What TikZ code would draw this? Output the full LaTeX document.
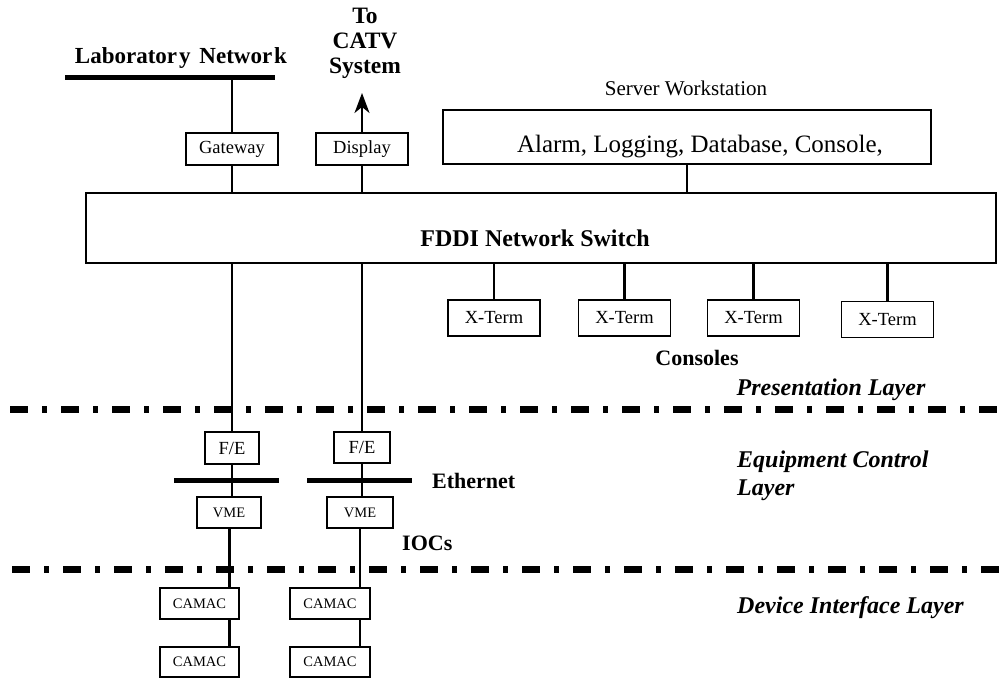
\documentclass[tikz,border=0pt]{standalone}
\usepackage{fontspec}
\setmainfont{Liberation Serif}
\usetikzlibrary{arrows.meta}
\begin{document}
\begin{tikzpicture}[x=1pt,y=-1pt,
  box/.style={draw, line width=1.8pt, inner sep=0pt, font=\fontsize{18.5}{22}\selectfont},
  smallbox/.style={box, font=\fontsize{14.5}{17}\selectfont},
  lbl/.style={inner sep=0pt, font=\bfseries\fontsize{22}{25}\selectfont},
  biglbl/.style={inner sep=0pt, font=\bfseries\fontsize{23.5}{25}\selectfont},
  plain/.style={inner sep=0pt, font=\fontsize{21}{24}\selectfont},
  layer/.style={inner sep=0pt, anchor=base west, align=left,
                font=\bfseries\itshape\fontsize{24}{28}\selectfont},
  link/.style={line width=2.2pt},
  heavylink/.style={line width=3pt},
  bus/.style={line width=5pt},
  layerline/.style={line width=7pt, dash pattern=on 18pt off 14pt on 5pt off 14pt}]

\fill[white] (0,0) rectangle (1008,678);
\useasboundingbox (0,0) rectangle (1008,678);

% ---------- laboratory network and gateway ----------
\coordinate (labL) at (65,77);
\coordinate (labR) at (275,77);
\draw[bus] (labL) -- (labR);
\node[biglbl, font=\bfseries\fontsize{23}{25}\selectfont, anchor=base] (labtxt) at (181,63)
  {Laborator\kern2pt y\kern3pt\ Networ\kern2pt k};

\node[box, minimum width=92, minimum height=32] (gw) at (232,149) {Gateway};
\node[box, minimum width=92, minimum height=32] (disp) at (362,149) {Display};

% ---------- CATV output ----------
\coordinate (catv) at (362,93);
\draw[link, -{Stealth[length=20pt,width=15pt,inset=6pt]}] (disp.north) -- (catv);
\node[biglbl, align=center] (catvtxt) at (365,43) {To\\CATV\\System};

% ---------- server workstation ----------
\node[plain, anchor=base] (srvtxt) at (686,95) {Server Workstation};
\node[box, minimum width=488, minimum height=54] (srv) at (687,137) {};
\node[inner sep=0pt, anchor=base, font=\fontsize{25}{28}\selectfont] (srvfn) at (700,152)
  {Alarm, Logging, Database, Console,};

% ---------- FDDI switch ----------
\node[box, minimum width=910, minimum height=70] (fddi) at (541,228) {};
\node[inner sep=0pt, anchor=base, font=\bfseries\fontsize{24}{28}\selectfont] (fdditxt) at (535,246)
  {FDDI Network Switch};

\draw[link] (gw.north) -- (gw.north |- labL);
\draw[link] (gw.south) -- (gw.south |- fddi.north);
\draw[link] (disp.south) -- (disp.south |- fddi.north);
\draw[link] (srv.south) -- (srv.south |- fddi.north);

% ---------- consoles ----------
\foreach \n/\x/\y in {1/494/318, 2/624.5/318, 3/753.5/318, 4/887.5/319.5} {
  \node[box, minimum width=92, minimum height=36] (xt\n) at (\x,\y) {X-Term};
  \draw[link] (xt\n.north) -- (xt\n.north |- fddi.south);
}
\node[lbl, anchor=base] (constxt) at (697,365) {Consoles};
\node[layer, anchor=base] (prestxt) at (831,395) {Presentation Layer};

% ---------- layer boundaries ----------
\coordinate (d1L) at (10,409);
\coordinate (d1R) at (1008,409);
\coordinate (d2L) at (12,569);
\coordinate (d2R) at (1008,569);
\draw[layerline] (d1L) -- (d1R);
\draw[layerline] (d2L) -- (d2R);

% ---------- equipment control layer ----------
\node[box, minimum width=54, minimum height=32] (fe1) at (232,448) {F/E};
\node[box, minimum width=56, minimum height=31] (fe2) at (362,447.5) {F/E};
\node[smallbox, minimum width=64, minimum height=31] (vme1) at (229,512.5) {VME};
\node[smallbox, minimum width=66, minimum height=31] (vme2) at (360,512.5) {VME};

\draw[link] (fe1.north) -- (fe1.north |- fddi.south);
\draw[link] (fe2.north) -- (fe2.north |- fddi.south);
\draw[link] (fe1.south) -- (fe1.south |- vme1.north);
\draw[link] (fe2.south) -- (fe2.south |- vme2.north);

\coordinate (e1L) at (174,480);
\coordinate (e1R) at (279,480);
\coordinate (e2L) at (307,480);
\coordinate (e2R) at (412,480);
\draw[bus] (e1L) -- (e1R);
\draw[bus] (e2L) -- (e2R);

\node[lbl, anchor=base west] (ethtxt) at (432,488) {Ethernet};
\node[lbl, anchor=base west] (ioctxt) at (402,550) {IOCs};
\node[layer] (eqtxt) at (737,495) {Equipment Control\\Layer};

% ---------- device interface layer ----------
\node[smallbox, minimum width=79, minimum height=31] (cam1a) at (199.5,603.5) {CAMAC};
\node[smallbox, minimum width=79, minimum height=30] (cam1b) at (199.5,662) {CAMAC};
\node[smallbox, minimum width=80, minimum height=31] (cam2a) at (330,603.5) {CAMAC};
\node[smallbox, minimum width=80, minimum height=30] (cam2b) at (330,662) {CAMAC};

\draw[heavylink] (vme1.south) -- (vme1.south |- cam1a.north);
\draw[heavylink] (cam1a.south -| vme1.south) -- (cam1b.north -| vme1.south);
\draw[link] (vme2.south) -- (vme2.south |- cam2a.north);
\draw[link] (cam2a.south -| vme2.south) -- (cam2b.north -| vme2.south);

\node[layer] (devtxt) at (737,613) {Device Interface Layer};
\end{tikzpicture}
\end{document}
